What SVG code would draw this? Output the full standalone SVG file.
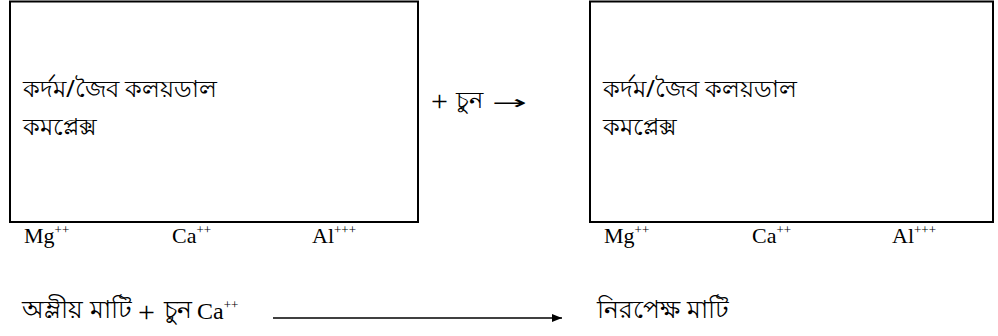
<svg xmlns="http://www.w3.org/2000/svg" width="998" height="336" viewBox="0 0 998 336">
  <defs>
    <marker id="arrowhead" viewBox="0 0 10 8" refX="10" refY="4" markerWidth="10" markerHeight="8" orient="auto" markerUnits="userSpaceOnUse">
      <path d="M0,0 L10,4 L0,8 z" fill="#000"/>
    </marker>
  </defs>
  <style>
    .box { fill: #fff; stroke: #000; stroke-width: 2; }
    .bn { font-family: "Noto Sans", "Liberation Sans", sans-serif; font-size: 24px; fill: #000; }
    .bn-lg { font-size: 25px; }
    .ion { font-family: "Liberation Serif", serif; font-size: 22px; fill: #000; }
    .sup { font-size: 13px; }
    .op { font-family: "Liberation Serif", "DejaVu Serif", serif; font-size: 30px; fill: #000; }
    .arr { font-family: "DejaVu Sans", sans-serif; font-size: 19px; fill: #000; }
    .link { stroke: #000; stroke-width: 1.6; fill: none; }
  </style>
  <rect width="998" height="336" fill="#fff"/>

  <!-- colloid complex before liming -->
  <g id="complex-before">
    <rect class="box" x="10" y="1.5" width="408" height="220.5"/>
    <text class="bn" x="23" y="97">কর্দম/জৈব কলয়ডাল</text>
    <text class="bn" x="23" y="135">কমপ্লেক্স</text>
    <text class="ion" x="24" y="243">Mg<tspan class="sup" dy="-9">++</tspan></text>
    <text class="ion" x="172" y="243">Ca<tspan class="sup" dy="-9">++</tspan></text>
    <text class="ion" x="312" y="243">Al<tspan class="sup" dy="-9">+++</tspan></text>
  </g>

  <!-- lime added -->
  <g id="lime-step">
    <text class="op" x="431" y="111">+</text>
    <text class="bn" x="456" y="108">চুন</text>
    <text class="arr" transform="translate(492,109) scale(2.2,1)" x="0" y="0">→</text>
  </g>

  <!-- colloid complex after liming -->
  <g id="complex-after">
    <rect class="box" x="590" y="1.5" width="403" height="220.5"/>
    <text class="bn" x="603" y="97">কর্দম/জৈব কলয়ডাল</text>
    <text class="bn" x="603" y="135">কমপ্লেক্স</text>
    <text class="ion" x="604" y="243">Mg<tspan class="sup" dy="-9">++</tspan></text>
    <text class="ion" x="752" y="243">Ca<tspan class="sup" dy="-9">++</tspan></text>
    <text class="ion" x="892" y="243">Al<tspan class="sup" dy="-9">+++</tspan></text>
  </g>

  <!-- reaction summary -->
  <g id="acid-soil">
    <text class="bn bn-lg" x="22" y="318">অম্লীয় মাটি</text>
    <text class="op" x="138" y="322">+</text>
    <text class="bn bn-lg" x="164" y="318">চুন</text>
    <text class="ion" x="197" y="319" style="font-size:24px">Ca<tspan class="sup" dy="-10">++</tspan></text>
  </g>
  <g id="neutral-soil">
    <text class="bn bn-lg" x="597" y="318">নিরপেক্ষ মাটি</text>
  </g>

  <g id="connectors">
    <line class="link" x1="273" y1="318" x2="562" y2="318" marker-end="url(#arrowhead)"/>
  </g>
</svg>
